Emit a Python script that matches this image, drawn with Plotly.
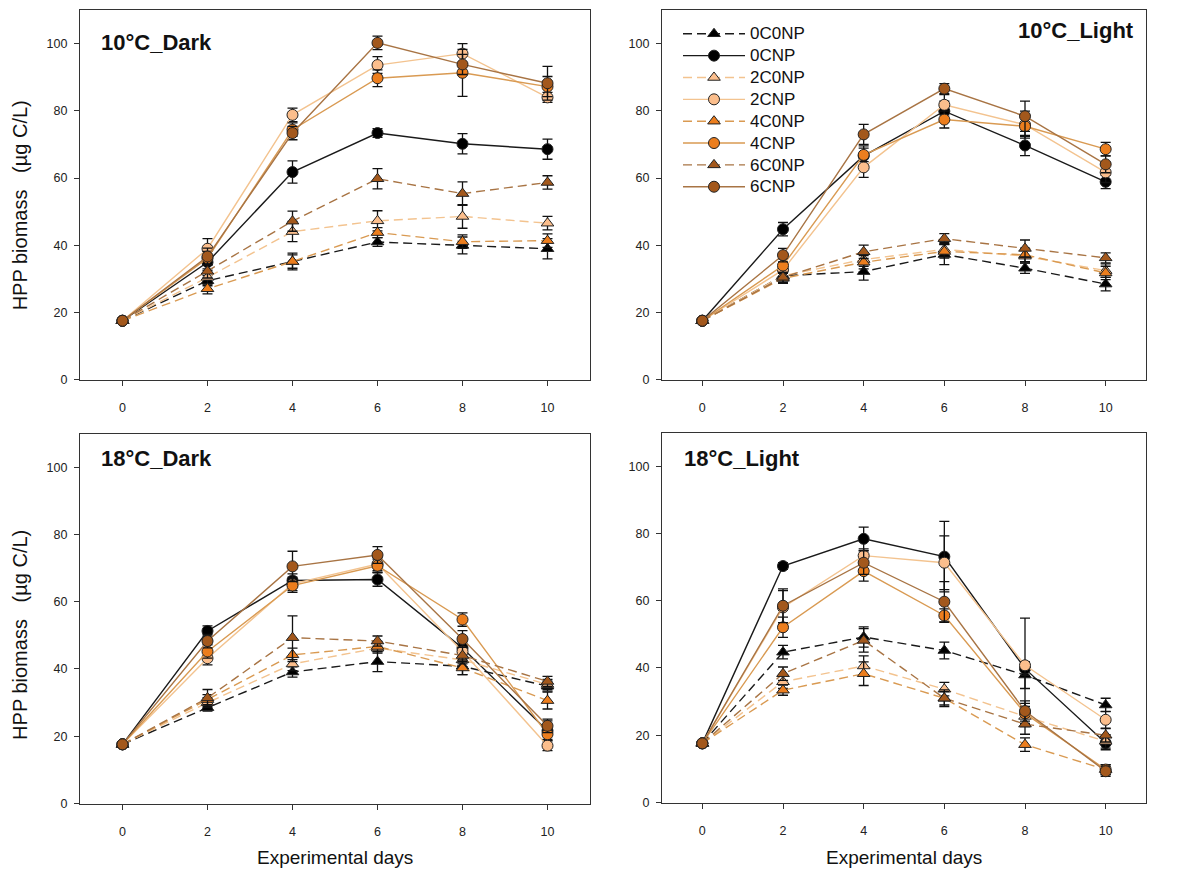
import plotly.graph_objects as go

# Sampling days
days = [0, 2, 4, 6, 8, 10]

# Treatments (legend order)
treatments = ["0C0NP", "0CNP", "2C0NP", "2CNP", "4C0NP", "4CNP", "6C0NP", "6CNP"]

# HPP biomass (µg C/L), one row per treatment in the order above
dark_10 = [
    [17.6, 29.5, 35.2, 41.0, 40.0, 39.0],
    [17.6, 35.0, 61.8, 73.4, 70.2, 68.6],
    [17.6, 30.5, 44.1, 47.3, 48.6, 46.6],
    [17.6, 39.0, 78.8, 93.6, 97.0, 84.0],
    [17.6, 27.1, 35.2, 43.8, 41.1, 41.4],
    [17.6, 36.2, 74.4, 89.7, 91.3, 87.2],
    [17.6, 32.3, 47.2, 59.8, 55.4, 58.7],
    [17.6, 36.7, 73.4, 100.2, 93.8, 88.2],
]
dark_10_err = [
    [0.5, 1.5, 2.5, 1.3, 2.5, 3.0],
    [0.5, 2.0, 3.3, 1.3, 3.0, 3.0],
    [0.5, 2.0, 3.0, 3.0, 3.5, 2.0],
    [0.5, 3.0, 2.0, 2.5, 3.0, 1.5],
    [0.5, 1.5, 2.0, 1.5, 2.0, 2.0],
    [0.5, 2.0, 2.0, 2.5, 7.0, 3.0],
    [0.5, 2.0, 3.0, 3.0, 3.5, 2.0],
    [0.5, 2.5, 2.0, 2.0, 3.0, 5.0],
]

light_10 = [
    [17.6, 31.0, 32.2, 37.3, 33.2, 28.5],
    [17.6, 44.8, 66.6, 79.9, 69.7, 58.9],
    [17.6, 31.0, 35.8, 38.8, 36.8, 32.5],
    [17.6, 32.7, 63.2, 81.8, 75.9, 61.7],
    [17.6, 30.2, 35.0, 38.2, 37.2, 31.8],
    [17.6, 34.0, 66.9, 77.4, 75.4, 68.6],
    [17.6, 30.5, 38.1, 42.0, 39.1, 36.3],
    [17.6, 37.1, 73.0, 86.6, 78.4, 64.1],
]
light_10_err = [
    [0.5, 1.5, 2.5, 3.0, 1.5, 2.0],
    [0.5, 2.0, 3.0, 3.0, 3.0, 2.0],
    [0.5, 1.5, 2.0, 2.0, 2.0, 2.0],
    [0.5, 2.0, 3.0, 3.0, 4.0, 3.0],
    [0.5, 1.5, 2.0, 2.0, 2.0, 2.0],
    [0.5, 2.0, 2.0, 2.5, 3.0, 2.0],
    [0.5, 1.5, 2.0, 1.5, 2.5, 1.5],
    [0.5, 2.0, 3.0, 1.5, 4.5, 2.5],
]

dark_18 = [
    [17.6, 28.5, 39.1, 42.2, 40.8, 34.9],
    [17.6, 51.3, 66.3, 66.6, 46.2, 21.6],
    [17.6, 30.0, 41.5, 46.2, 42.7, 35.4],
    [17.6, 43.2, 65.3, 71.2, 45.2, 17.2],
    [17.6, 30.9, 44.2, 46.7, 40.3, 30.6],
    [17.6, 45.2, 64.8, 70.7, 54.7, 20.6],
    [17.6, 31.4, 49.3, 48.3, 44.0, 36.3],
    [17.6, 48.3, 70.5, 73.9, 48.9, 23.1],
]
dark_18_err = [
    [0.5, 1.0, 1.5, 3.0, 2.5, 1.5],
    [0.5, 1.5, 2.0, 2.0, 2.0, 3.0],
    [0.5, 1.5, 2.0, 1.5, 2.0, 1.5],
    [0.5, 2.0, 2.0, 2.0, 2.5, 1.5],
    [0.5, 1.5, 2.0, 1.5, 2.0, 2.5],
    [0.5, 2.0, 2.0, 2.0, 2.0, 1.5],
    [0.5, 2.5, 6.5, 1.5, 2.5, 1.5],
    [0.5, 2.0, 4.5, 2.5, 2.5, 2.0],
]

light_18 = [
    [17.6, 44.7, 49.2, 45.2, 37.9, 29.0],
    [17.6, 70.3, 78.4, 73.1, 39.8, 17.7],
    [17.6, 35.9, 40.6, 33.7, 25.6, 18.2],
    [17.6, 58.0, 73.4, 71.3, 40.8, 24.6],
    [17.6, 33.4, 38.3, 31.0, 17.2, 9.8],
    [17.6, 52.1, 68.8, 55.6, 26.5, 9.8],
    [17.6, 38.3, 48.2, 31.0, 23.3, 20.0],
    [17.6, 58.5, 71.3, 59.7, 27.2, 9.3],
]
light_18_err = [
    [0.5, 2.0, 3.0, 2.5, 4.0, 2.0],
    [0.5, 1.0, 3.5, 10.5, 2.0, 2.0],
    [0.5, 2.0, 3.0, 2.0, 3.0, 2.0],
    [0.5, 5.0, 2.0, 8.0, 14.0, 2.5],
    [0.5, 1.5, 3.5, 2.0, 2.0, 1.5],
    [0.5, 3.0, 3.0, 2.0, 3.0, 1.5],
    [0.5, 2.0, 3.5, 2.5, 3.0, 2.0],
    [0.5, 5.0, 3.5, 6.0, 3.0, 1.5],
]

panel_titles = ["10°C_Dark", "10°C_Light", "18°C_Dark", "18°C_Light"]

# Styling per treatment
marker_fill = ["#000000", "#000000", "#FBBE8C", "#FBBE8C",
               "#EC7E1E", "#EC7E1E", "#A3581C", "#A3581C"]
line_color = ["#1a1a1a", "#1a1a1a", "#F3C38F", "#F3C38F",
              "#D99A52", "#D99A52", "#A87444", "#A87444"]
symbols = ["triangle-up", "circle"] * 4
dashes = ["9px,5px", "solid"] * 4

FONT = "Liberation Sans, Arial, sans-serif"
W, H = 1180, 876

# Plot-area boxes in pixels: (left, right, top, bottom)
boxes = [
    (80, 590, 10, 383),
    (662, 1146, 10, 383),
    (80, 590, 437, 810),
    (662, 1146, 436, 809),
]

panels = [(dark_10, dark_10_err), (light_10, light_10_err),
          (dark_18, dark_18_err), (light_18, light_18_err)]

fig = go.Figure()
layout = {}

for p, ((means, errs), (l, r, t, b)) in enumerate(zip(panels, boxes)):
    ax = "" if p == 0 else str(p + 1)
    xref, yref = "x" + ax, "y" + ax
    for i, name in enumerate(treatments):
        fig.add_trace(go.Scatter(
            x=days, y=means[i],
            name='<span style="font-size:17px">%s</span>' % name,
            mode="lines+markers",
            xaxis=xref, yaxis=yref,
            showlegend=(p == 1), legendgroup=name,
            line=dict(color=line_color[i], width=1.4, dash=dashes[i]),
            marker=dict(symbol=symbols[i], size=11, color=marker_fill[i],
                        line=dict(color="#222222", width=1)),
            error_y=dict(type="data", array=errs[i], visible=True,
                         color="#111111", thickness=1.3, width=5),
        ))
    common = dict(showline=True, linecolor="#333333", linewidth=1.3,
                  mirror=True, ticks="outside", ticklen=5, tickwidth=1.2,
                  tickcolor="#333333", showgrid=False, zeroline=False,
                  tickfont=dict(family=FONT, size=12.5, color="#222222"))
    layout["xaxis" + ax] = dict(
        common, domain=[l / W, r / W], range=[-1, 11],
        tickmode="array", tickvals=days, anchor=yref,
        ticklabelstandoff=11)
    layout["yaxis" + ax] = dict(
        common, domain=[1 - b / H, 1 - t / H], range=[0, 110],
        tickmode="array", tickvals=[0, 20, 40, 60, 80, 100], anchor=xref,
        ticklabelstandoff=4)

annotations = []
# Panel labels
label_pos = [(99, 43, "left"), (1136, 31, "right"), (99, 462, "left"), (682, 462, "left")]
for text, (px, py, al) in zip(panel_titles, label_pos):
    annotations.append(dict(
        text="<b>%s</b>" % text, x=px / W, y=1 - py / H, xref="paper", yref="paper",
        xanchor=al, yanchor="middle", showarrow=False,
        font=dict(family=FONT, size=22, color="#111111")))
# Axis titles
ytitle_centers = [207, None, 640, None]
for (l, r, t, b), yc, show_x in zip(boxes, ytitle_centers, [False, False, True, True]):
    if yc is not None:
        annotations.append(dict(
            text="HPP biomass   (µg C/L)", x=20 / W, y=1 - yc / H,
            xref="paper", yref="paper", xanchor="center", yanchor="middle",
            textangle=-90, showarrow=False,
            font=dict(family=FONT, size=20, color="#111111")))
    if show_x:
        annotations.append(dict(
            text="Experimental days", x=(l + r) / 2 / W, y=1 - 864 / H,
            xref="paper", yref="paper", xanchor="center", yanchor="middle",
            showarrow=False, font=dict(family=FONT, size=19, color="#111111")))

fig.update_layout(
    width=W, height=H,
    margin=dict(l=0, r=0, t=0, b=0),
    paper_bgcolor="white", plot_bgcolor="white",
    annotations=annotations,
    legend=dict(x=678 / W, y=1 - 18 / H, xanchor="left", yanchor="top",
                bgcolor="rgba(0,0,0,0)", font=dict(family=FONT, size=14.5, color="#111111"),
                itemwidth=62, tracegroupgap=0),
    **layout,
)

fig.write_html("out.html")
